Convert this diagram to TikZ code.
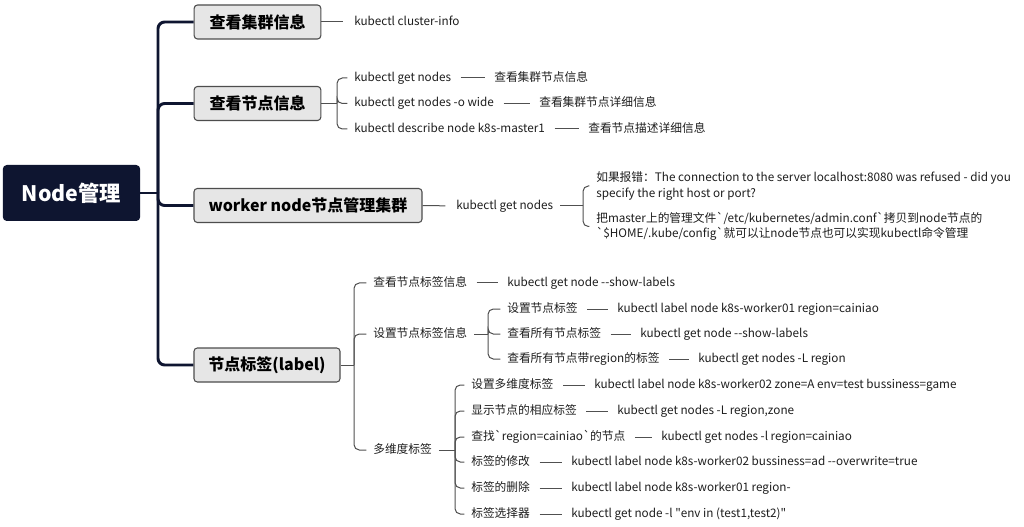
\documentclass[tikz,border=0pt]{standalone}
\usepackage{fontspec}
\setmainfont{Noto Sans CJK SC}[Ligatures=TeXOff]
\definecolor{rootc}{HTML}{0E1530}
\definecolor{boxc}{HTML}{E6E6E6}
\definecolor{boxline}{HTML}{4D4D4D}
\definecolor{connc}{HTML}{505050}
\definecolor{txtc}{HTML}{1E1E1E}
\begin{document}
\begin{tikzpicture}[x=0.75pt,y=-0.75pt,
  trunk/.style={draw=rootc, line width=2.2pt, rounded corners=5pt},
  conn/.style={draw=connc, line width=0.75pt},
  brk/.style={draw=connc, line width=0.75pt, rounded corners=4pt, shorten >=5pt},
  tt/.style={shorten <=7pt, shorten >=7pt},
  rootbox/.style={fill=rootc, text=white, rounded corners=3pt, minimum width=103pt, minimum height=42pt, font=\fontsize{16}{18}\selectfont\bfseries, inner sep=0},
  l1box/.style={fill=boxc, draw=boxline, line width=0.8pt, rounded corners=2.5pt, minimum height=25.5pt, font=\fontsize{12}{14}\selectfont\bfseries, inner sep=0},
  txt/.style={anchor=west, inner sep=0, text=txtc, text height=7pt, text depth=2pt, font=\fontsize{8.8}{11.5}\selectfont},
  mtxt/.style={anchor=west, inner sep=0, text=txtc, align=left, font=\fontsize{8.8}{11.5}\selectfont},
]
\useasboundingbox (0,0) rectangle (1024,527);
\fill[white] (0,0) rectangle (1024,527);

% root and level-1 boxes
\node[rootbox] (root) at (71.5,193) {Node管理};
\node[l1box, minimum width=95pt] (b1) at (257.5,22) {查看集群信息};
\node[l1box, minimum width=95pt] (b2) at (257.5,103.5) {查看节点信息};
\node[l1box, minimum width=171pt] (b3) at (308,205.5) {worker node节点管理集群};
\node[l1box, minimum width=109.5pt] (b4) at (267,365) {节点标签(label)};

\coordinate (trk) at (158,193);
\draw[trunk] (root.east) -- (trk);
\foreach \b in {b1,b2,b3,b4} \draw[trunk] (trk) |- (\b.west);

% branch 1
\node[txt] (t1) at (354,22) {kubectl cluster-info};
\draw[conn, shorten >=8pt] (b1.east) -- (t1.west);

% branch 2
\node[txt] (t21) at (354,78) {kubectl get nodes};
\node[txt] (t21d) at (494,78) {查看集群节点信息};
\node[txt] (t22) at (354,103.5) {kubectl get nodes -o wide};
\node[txt] (t22d) at (539,103.5) {查看集群节点详细信息};
\node[txt] (t23) at (354,129) {kubectl describe node k8s-master1};
\node[txt] (t23d) at (588,129) {查看节点描述详细信息};
\coordinate (j2) at (337,103.5);
\draw[conn] (b2.east) -- (j2);
\foreach \c in {t21,t22,t23} \draw[brk] (j2) |- (\c.west);
\draw[conn, tt] (t21.east) -- (t21d.west);
\draw[conn, tt] (t22.east) -- (t22d.west);
\draw[conn, tt] (t23.east) -- (t23d.west);

% branch 3
\node[txt] (t3) at (456,206) {kubectl get nodes};
\node[mtxt] (t31) at (596,186) {如果报错：The connection to the server localhost:8080 was refused - did you\\specify the right host or port?};
\node[mtxt] (t32) at (596,226.5) {把master上的管理文件\textasciigrave/etc/kubernetes/admin.conf\textasciigrave 拷贝到node节点的\\\textasciigrave\$HOME/.kube/config\textasciigrave 就可以让node节点也可以实现kubectl命令管理};
\coordinate (j3) at (583,206);
\draw[conn, shorten >=8pt] (b3.east) -- (t3.west);
\draw[conn, shorten <=5pt] (t3.east) -- (j3);
\foreach \c in {t31,t32} \draw[brk] (j3) |- (\c.west);

% branch 4
\node[txt] (t41) at (373,283) {查看节点标签信息};
\node[txt] (t41c) at (507,283) {kubectl get node -{}-show-labels};
\node[txt] (t42) at (373,334) {设置节点标签信息};
\node[txt] (t43) at (373,450) {多维度标签};
\coordinate (j4) at (354,365);
\draw[conn] (b4.east) -- (j4);
\foreach \c in {t41,t42,t43} \draw[brk] (j4) |- (\c.west);
\draw[conn, tt] (t41.east) -- (t41c.west);

\node[txt] (t421) at (507,309) {设置节点标签};
\node[txt] (t421c) at (617,309) {kubectl label node k8s-worker01 region=cainiao};
\node[txt] (t422) at (507,334) {查看所有节点标签};
\node[txt] (t422c) at (640,334) {kubectl get node -{}-show-labels};
\node[txt] (t423) at (507,359) {查看所有节点带region的标签};
\node[txt] (t423c) at (698,359) {kubectl get nodes -L region};
\coordinate (j42) at (488,334);
\draw[conn, shorten <=5pt] (t42.east) -- (j42);
\foreach \c in {t421,t422,t423} \draw[brk] (j42) |- (\c.west);
\draw[conn, tt] (t421.east) -- (t421c.west);
\draw[conn, tt] (t422.east) -- (t422c.west);
\draw[conn, tt] (t423.east) -- (t423c.west);

\node[txt] (t431) at (471,385) {设置多维度标签};
\node[txt] (t431c) at (594,385) {kubectl label node k8s-worker02 zone=A env=test bussiness=game};
\node[txt] (t432) at (471,411) {显示节点的相应标签};
\node[txt] (t432c) at (617,411) {kubectl get nodes -L region,zone};
\node[txt] (t433) at (471,437) {查找\textasciigrave region=cainiao\textasciigrave 的节点};
\node[txt] (t433c) at (661,437) {kubectl get nodes -l region=cainiao};
\node[txt] (t434) at (471,462) {标签的修改};
\node[txt] (t434c) at (571,462) {kubectl label node k8s-worker02 bussiness=ad -{}-overwrite=true};
\node[txt] (t435) at (471,488) {标签的删除};
\node[txt] (t435c) at (571,488) {kubectl label node k8s-worker01 region-};
\node[txt] (t436) at (471,514) {标签选择器};
\node[txt] (t436c) at (571,514) {kubectl get node -l \textquotedbl env in (test1,test2)\textquotedbl};
\coordinate (j43) at (455,450);
\draw[conn, shorten <=5pt] (t43.east) -- (j43);
\foreach \c in {t431,t432,t433,t434,t435,t436} \draw[brk] (j43) |- (\c.west);
\foreach \a in {t431,t432,t433,t434,t435,t436} \draw[conn, tt] (\a.east) -- (\a c.west);
\end{tikzpicture}
\end{document}
